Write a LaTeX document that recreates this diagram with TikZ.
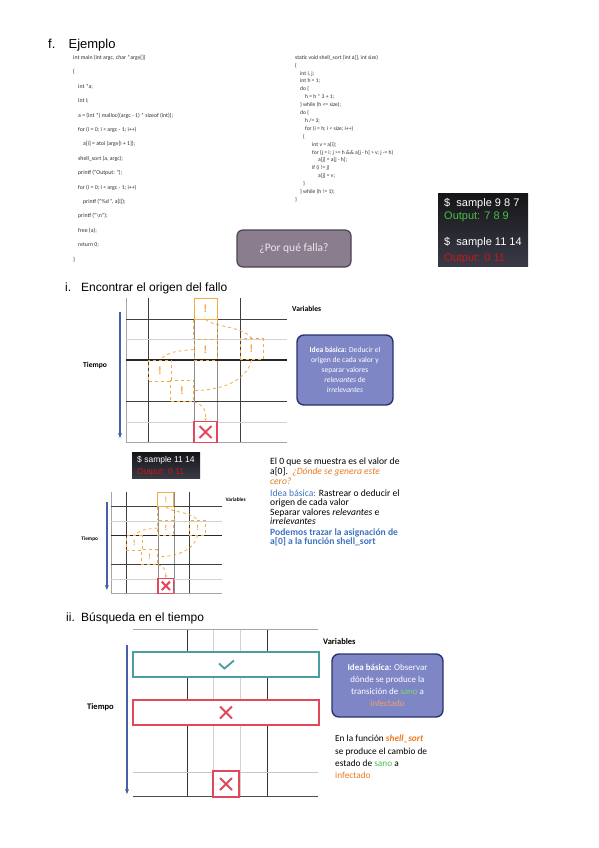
\documentclass[tikz,border=0pt]{standalone}
\usepackage{fontspec}
\setmainfont{Carlito}
\newfontfamily\arialfont{Liberation Sans}
\usetikzlibrary{positioning,arrows.meta}

\definecolor{codegray}{HTML}{2E2E2E}
\definecolor{ideafill}{HTML}{7F86C6}
\definecolor{ideadraw}{HTML}{2B3272}
\definecolor{trazo}{HTML}{F2AA45}
\definecolor{fallo}{HTML}{E2475A}
\definecolor{tiempoazul}{HTML}{4A5FA6}
\definecolor{sano}{HTML}{7CD67C}
\definecolor{infectado}{HTML}{F5A066}
\definecolor{naranja}{HTML}{E97A22}
\definecolor{azul}{HTML}{3F72BD}
\definecolor{verde}{HTML}{45C045}
\definecolor{rojo}{HTML}{C8161A}
\definecolor{malva}{HTML}{8A7D8D}
\definecolor{malvaborde}{HTML}{4D434F}
\definecolor{turquesa}{HTML}{4A9EA2}
\definecolor{terminalA}{HTML}{151518}
\definecolor{terminalB}{HTML}{3A3A46}

\tikzset{
  titulo/.style={font=\arialfont\fontsize{13}{13}\selectfont, anchor=base west, inner sep=0pt},
  subtitulo/.style={font=\arialfont\fontsize{12}{12}\selectfont, anchor=base west, inner sep=0pt},
  codigo/.style={anchor=north west, align=left, inner sep=0pt, text=codegray},
  texto/.style={anchor=north west, align=left, inner sep=0pt},
  idea/.style={draw=ideadraw, fill=ideafill, line width=1.4pt, rounded corners=7pt,
    text=white, align=center, inner sep=0pt},
  terminal/.style={top color=terminalA, bottom color=terminalB, inner sep=0pt},
  consola/.style={font=\arialfont, anchor=base west, inner sep=0pt},
  rotulo/.style={font=\bfseries\fontsize{7.6}{8}\selectfont, inner sep=0pt},
  eje/.style={tiempoazul, line width=1.6pt, -{Stealth[length=5pt, width=4pt]}},
  marca/.style={draw=trazo, line width=1pt, minimum width=23pt, minimum height=21pt,
    inner sep=0pt, text=trazo, font=\arialfont\bfseries\fontsize{11}{11}\selectfont},
  traza/.style={trazo, dashed, line width=0.8pt},
  aspa/.style={path picture={
      \draw[fallo, line width=2pt]
        ([shift={(-6pt,-6pt)}]path picture bounding box.center) -- ([shift={(6pt,6pt)}]path picture bounding box.center)
        ([shift={(-6pt,6pt)}]path picture bounding box.center) -- ([shift={(6pt,-6pt)}]path picture bounding box.center);}},
  cruz/.style={draw=fallo, line width=1.2pt, minimum width=23pt, minimum height=21pt,
    inner sep=0pt, fill=white, aspa},
  visto/.style={path picture={
      \draw[turquesa, line width=1.8pt]
        ([shift={(-7pt,1pt)}]path picture bounding box.center) -- ([shift={(-1.5pt,-4pt)}]path picture bounding box.center)
        -- ([shift={(8pt,4pt)}]path picture bounding box.center);}},
  franja/.style={fill=white, line width=1.3pt, minimum width=186pt, minimum height=25pt, inner sep=0pt},
}

% rejilla variables / tiempo con el origen del fallo
\newcommand{\rejilla}[1]{%
  \draw[gray!70] (0,0) -- (0,144);
  \draw[black!75, line width=0.9pt] (22,0) -- (22,144);
  \draw[gray!90] (68,0) -- (68,144);
  \draw[gray!90] (91,0) -- (91,144);
  \draw[black!75, line width=0.9pt] (114,0) -- (114,144);
  \draw[black!75, line width=0.9pt] (0,21) -- (161,21);
  \draw[gray!35] (0,41) -- (161,41);
  \draw[black!85, line width=1.3pt] (0,62) -- (161,62);
  \draw[black!75, line width=0.9pt] (0,103) -- (161,103);
  \draw[gray!35] (0,124) -- (161,124);
  \draw[gray!70] (0,144) -- (161,144);
  % marcas
  \node[marca, fill=white] (#1A) at (79.5,10.5) {!};
  \node[marca, dashed] (#1B) at (79.5,51.5) {!};
  \node[marca, dashed] (#1C) at (125.5,51) {!};
  \node[marca, dashed] (#1D) at (34,72.5) {!};
  \node[marca, dashed] (#1E) at (56,92.5) {!};
  \node[cruz] (#1X) at (79.5,134) {};
  % trazas
  \draw[traza] (#1A.south west) -- (#1B.north west);
  \draw[traza] (#1A.south east) -- (#1B.north east);
  \draw[traza] (#1A.south) .. controls +(10,8) and +(-10,-12) .. (#1C.north);
  \draw[traza] (#1B.west) .. controls +(-20,2) and +(10,-8) .. (#1D.north);
  \draw[traza] (#1C.south) .. controls +(-5,22) and +(25,0) .. (#1E.east);
  \draw[traza, -{Stealth[length=3pt]}] (#1E.south east) .. controls +(12,5) and +(0,-10) .. (#1X.north);
  \draw[eje] (-6,14) -- (-6,140);
  \node[rotulo, anchor=west] (#1tiempo) at (-43,67) {Tiempo};
  \node[rotulo, anchor=west] (#1var) at (166,11) {Variables};
}

\begin{document}
\begin{tikzpicture}[x=1pt, y=-1pt]
  \useasboundingbox (0,0) rectangle (599,848);

  % f. Ejemplo
  \node[titulo] (fnum) at (48,48.5) {f.};
  \node[titulo, right=12.8pt of fnum.base east, anchor=base west] (ejemplo) {Ejemplo};

  \node[codigo, font=\fontsize{5.8}{14.4}\selectfont] (mainsrc) at (73,55) {%
    int main (int argc, char *argv[])\\
    \{\\
    \hspace*{5pt}int *a;\\
    \hspace*{5pt}int i;\\
    \hspace*{5pt}a = (int *) malloc((argc - 1) * sizeof (int));\\
    \hspace*{5pt}for (i = 0; i < argc - 1; i++)\\
    \hspace*{10pt}a[i] = atoi (argv[i + 1]);\\
    \hspace*{5pt}shell\_sort (a, argc);\\
    \hspace*{5pt}printf ("Output: ");\\
    \hspace*{5pt}for (i = 0; i < argc - 1; i++)\\
    \hspace*{10pt}printf ("\%d ", a[i]);\\
    \hspace*{5pt}printf ("\textbackslash n");\\
    \hspace*{5pt}free (a);\\
    \hspace*{5pt}return 0;\\
    \}};

  \node[codigo, font=\fontsize{5.6}{7.9}\selectfont] (shellsrc) at (295,55) {%
    static void shell\_sort (int a[], int size)\\
    \{\\
    \hspace*{5pt}int i, j;\\
    \hspace*{5pt}int h = 1;\\
    \hspace*{5pt}do \{\\
    \hspace*{10pt}h = h * 3 + 1;\\
    \hspace*{5pt}\} while (h <= size);\\
    \hspace*{5pt}do \{\\
    \hspace*{10pt}h /= 3;\\
    \hspace*{10pt}for (i = h; i < size; i++)\\
    \hspace*{8pt}\{\\
    \hspace*{17pt}int v = a[i];\\
    \hspace*{17pt}for (j = i; j >= h \&\& a[j - h] > v; j -= h)\\
    \hspace*{23pt}a[j] = a[j - h];\\
    \hspace*{17pt}if (i != j)\\
    \hspace*{23pt}a[j] = v;\\
    \hspace*{8pt}\}\\
    \hspace*{5pt}\} while (h != 1);\\
    \}};

  \node[draw=malvaborde, fill=malva, line width=1.2pt, rounded corners=6pt,
    minimum width=114pt, minimum height=37pt, text={rgb,255:red,236;green,230;blue,239},
    font=\fontsize{11.5}{12}\selectfont] (falla) at (294,248.5) {¿Por qué falla?};

  \node[terminal, minimum width=90pt, minimum height=73pt] (term) at (483,229.5) {};
  \node[consola, text=white, font=\arialfont\fontsize{11}{11}\selectfont] (cmdA) at (444,206.5) {\$\ \ sample 9 8 7};
  \node[consola, text=verde, font=\arialfont\fontsize{11}{11}\selectfont] (outA) at (444,219.5) {Output: 7 8 9};
  \node[consola, text=white, font=\arialfont\fontsize{11}{11}\selectfont] (cmdB) at (444,245.5) {\$\ \ sample 11 14};
  \node[consola, text=rojo, font=\arialfont\fontsize{11}{11}\selectfont] (outB) at (444,261.5) {Output: 0 11};

  % i. Encontrar el origen del fallo
  \node[subtitulo] (inum) at (65,291) {i.};
  \node[subtitulo] (encontrar) at (81,291) {Encontrar el origen del fallo};

  \begin{scope}[shift={(126,298)}]
    \rejilla{g}
  \end{scope}

  \node[idea, minimum width=96pt, minimum height=70pt, font=\fontsize{7.6}{10}\selectfont] (ideaA) at (345,370)
    {\textbf{Idea básica:} Deducir el\\ origen de cada valor y\\ separar valores\\ \textit{relevantes} de\\ \textit{irrelevantes}};

  \node[terminal, minimum width=68pt, minimum height=26pt] (termB) at (166,465) {};
  \node[consola, text=white, font=\arialfont\fontsize{8.5}{8.5}\selectfont] (cmdC) at (137,462) {\$ sample 11 14};
  \node[consola, text=rojo, font=\arialfont\fontsize{8.5}{8.5}\selectfont] (outC) at (137,474.5) {Output: 0 11};

  \begin{scope}[shift={(111,492)}, xscale=0.69, yscale=0.70, transform shape]
    \rejilla{h}
  \end{scope}

  \node[texto, font=\fontsize{9.6}{9.7}\selectfont] (cero) at (270,458)
    {El 0 que se muestra es el valor de\\ a[0].\ \ \textcolor{naranja}{\textit{¿Dónde se genera este}}\\ \textcolor{naranja}{\textit{cero?}}};
  \node[texto, font=\fontsize{9.6}{9.2}\selectfont] (rastrear) at (270,489.5)
    {\textcolor{azul}{Idea básica:} Rastrear o deducir el\\ origen de cada valor};
  \node[texto, font=\fontsize{9.6}{9.2}\selectfont] (separar) at (270,508.5)
    {Separar valores \textit{relevantes} e\\ \textit{irrelevantes}};
  \node[texto, font=\bfseries\fontsize{9.6}{9.2}\selectfont, text=azul] (trazar) at (270,528.5)
    {Podemos trazar la asignación de\\ a[0] a la función shell\_sort};

  % ii. Busqueda en el tiempo
  \node[subtitulo] (iinum) at (66,621) {ii.};
  \node[subtitulo] (busqueda) at (81,621) {Búsqueda en el tiempo};

  \draw[gray!35] (213,629) -- (213,796);
  \draw[gray!35] (240,629) -- (240,796);
  \draw[black!80, line width=0.9pt] (187,629) -- (187,796);
  \draw[black!80, line width=0.9pt] (267,629) -- (267,796);
  \draw[gray!70] (133,629) -- (318,629);
  \draw[gray!45] (133,772) -- (318,772);
  \draw[black!70] (133,796) -- (318,796);

  \node[franja, draw=turquesa, visto] (sanoF) at (226,664.5) {};
  \node[franja, draw=fallo, aspa] (malF) at (226,712.5) {};
  \node[cruz, minimum width=26pt, minimum height=26pt] (finX) at (226,784) {};

  \draw[eje] (127,645) -- (127,794);
  \node[rotulo, anchor=west, font=\bfseries\fontsize{8.5}{9}\selectfont] (tiempoC) at (87,707) {Tiempo};
  \node[rotulo, anchor=west, font=\bfseries\fontsize{8.5}{9}\selectfont] (varC) at (323,642) {Variables};

  \node[idea, minimum width=111pt, minimum height=63pt, font=\fontsize{9}{12}\selectfont] (ideaB) at (387.5,685.5)
    {\textbf{Idea básica:} Observar\\ dónde se produce la\\ transición de \textcolor{sano}{sano} a\\ \textcolor{infectado}{infectado}};

  \node[texto, font=\fontsize{9.3}{12.3}\selectfont] (cambio) at (335,735)
    {En la función \textcolor{naranja}{\textbf{\textit{shell\_sort}}}\\ se produce el cambio de\\ estado de \textcolor{verde}{sano} a\\ \textcolor{naranja}{infectado}};
\end{tikzpicture}
\end{document}
